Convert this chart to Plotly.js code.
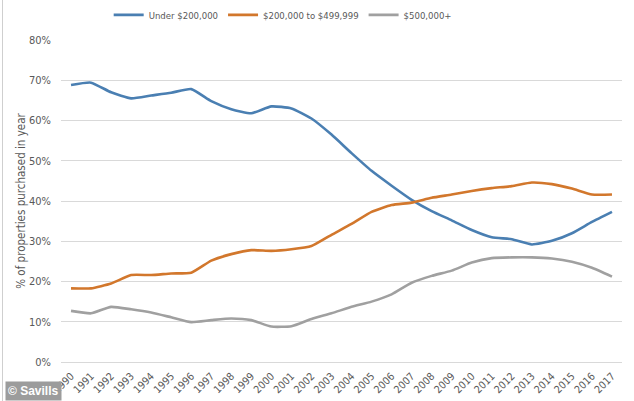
<!DOCTYPE html>
<html>
<head>
<meta charset="utf-8">
<script src="https://cdn.plot.ly/plotly-3.0.1.min.js"></script>
<style>html,body{margin:0;padding:0;background:#fff;}#chart{width:634px;height:401px;}</style>
</head>
<body>
<div id="chart"></div>
<script>
const years = ["1990","1991","1992","1993","1994","1995","1996","1997","1998","1999","2000","2001","2002","2003","2004","2005","2006","2007","2008","2009","2010","2011","2012","2013","2014","2015","2016","2017"];
const under200k = [68.8,69.4,67.0,65.5,66.2,66.9,67.8,64.8,62.8,61.8,63.5,63.0,60.5,56.5,51.9,47.5,43.8,40.3,37.5,35.2,32.8,31.0,30.5,29.2,30.1,32.0,34.8,37.3];
const mid200to499 = [18.3,18.3,19.5,21.6,21.6,22.0,22.2,25.2,26.8,27.8,27.6,28.0,28.8,31.6,34.3,37.3,39.0,39.6,40.8,41.6,42.5,43.2,43.7,44.6,44.2,43.1,41.6,41.6];
const over500k = [12.7,12.1,13.7,13.1,12.3,11.1,9.9,10.4,10.8,10.4,8.8,8.9,10.7,12.1,13.7,15.0,16.8,19.7,21.4,22.7,24.7,25.8,26.0,26.0,25.7,24.9,23.4,21.2];
const seriesNames = ["Under $200,000","$200,000 to $499,999","$500,000+"];
const yTicks = [0,10,20,30,40,50,60,70,80];

const colors = ["#4a7fb2","#d2772c","#a0a0a0"];
const data = [under200k, mid200to499, over500k].map((v,i)=>({
  type:"scatter", mode:"lines", x: years, y: v, name: seriesNames[i],
  line:{color:colors[i], width:2.6, shape:"spline", smoothing:0.5},
  hoverinfo:"skip"
}));

const narrow = "DejaVu Sans Condensed, Liberation Sans, Arial, sans-serif";
const layout = {
  width:634, height:401,
  margin:{l:61, r:12, t:40, b:39, autoexpand:false},
  paper_bgcolor:"#fff", plot_bgcolor:"#fff",
  font:{family:narrow, size:10, color:"#595959"},
  showlegend:true,
  legend:{orientation:"h", x:0.085, xanchor:"left", y:1.078, yanchor:"middle",
          font:{family:narrow, size:9.5, color:"#595959"}, itemwidth:30, tracegroupgap:0},
  xaxis:{type:"category", range:[-0.5,27.5], tickangle:-45, showgrid:false, automargin:false,
         showline:true, linecolor:"#d9d9d9", ticks:"", ticklabelstandoff:3,
         tickfont:{family:narrow, size:10.5, color:"#595959"},
         fixedrange:true},
  yaxis:{range:[0,80], tickvals:yTicks, ticktext:yTicks.map(t=>t+"%"), showgrid:true, automargin:false,
         gridcolor:"#d9d9d9", gridwidth:1, zeroline:false, showline:false, ticks:"",
         ticklabelstandoff:9, tickfont:{family:narrow, size:11, color:"#595959"},
         title:{text:"% of properties purchased in year", font:{family:narrow, size:11.5, color:"#595959"}, standoff:0},
         fixedrange:true},
  shapes:[{type:"line", xref:"paper", yref:"paper", x0:(2.5-61)/561, x1:(2.5-61)/561, y0:-0.125, y1:1.13,
           line:{color:"#cfcfcf", width:1}}],
  annotations:[{xref:"paper", yref:"paper", x:(5-61)/561, y:(362-401)/322, xanchor:"left", yanchor:"bottom",
                text:"<b>© Savills</b>", showarrow:false, bgcolor:"#9c9c9c", borderpad:2,
                font:{family:"Liberation Sans, Arial, sans-serif", size:12, color:"#ffffff"}}]
};
Plotly.newPlot("chart", data, layout, {displayModeBar:false, staticPlot:true});
</script>
</body>
</html>
